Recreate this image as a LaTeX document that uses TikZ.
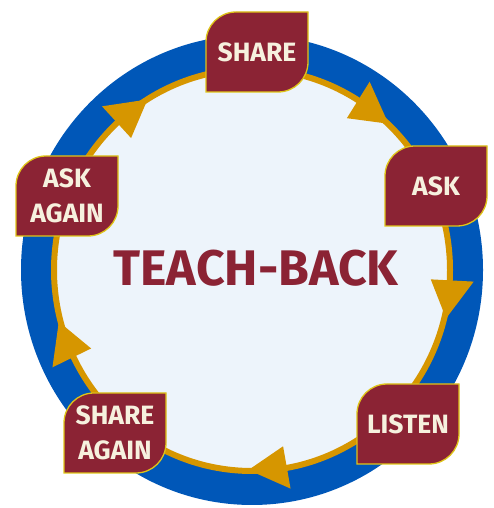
\documentclass[tikz,border=0pt]{standalone}
\usepackage{fontspec}
\setmainfont{Fira Sans}
\usetikzlibrary{calc}
\definecolor{ringblue}{RGB}{0,87,184}
\definecolor{ringgold}{RGB}{214,150,0}
\definecolor{innerfill}{RGB}{237,244,251}
\definecolor{boxred}{RGB}{139,35,52}
\definecolor{boxedge}{RGB}{222,196,24}
\definecolor{boxtext}{RGB}{246,241,222}
% leaf shaped box: round top-left and bottom-right corners
\newcommand{\leafbox}[3]{
  \draw[leaf] ($(#2)+(-51,-40)$) -- ++(0,50) arc (180:90:30pt) -- ++(72,0)
    -- ++(0,-50) arc (0:-90:30pt) -- cycle;
  \node[steptext] (#1) at (#2) {#3};
}

\begin{document}
\begin{tikzpicture}[x=1pt, y=1pt,
  leaf/.style={draw=boxedge, fill=boxred, line width=1.3pt},
  steptext/.style={text=boxtext, align=center, font=\fontsize{26.5}{35}\selectfont\bfseries},
  title/.style={text=boxred, font=\fontsize{50}{52}\selectfont\bfseries},
  arrowtip/.style={fill=ringgold}
  ]
  \useasboundingbox (0,0) rectangle (494,508);
  \coordinate (ctr) at (252,238);

  % ring
  \fill[ringblue] (ctr) ellipse [x radius=231pt, y radius=235pt];
  \draw[ringgold, line width=6pt, fill=innerfill] (ctr) ellipse [x radius=198pt, y radius=201pt];

  % arrow heads on the ring
  \foreach \a in {58,-3,-80,206,132.5}
    \fill[arrowtip] ($(ctr)+(\a:179)$) -- ($(ctr)+(\a:222)$) -- ($(ctr)+(\a-11:200)$) -- cycle;

  \node[title] (teachback) at (256,240) {TEACH-BACK};

  \leafbox{share}{257,456}{SHARE}
  \leafbox{ask}{436,322}{ASK}
  \leafbox{listen}{408,84}{LISTEN}
  \leafbox{shareagain}{115,75}{SHARE\\AGAIN}
  \leafbox{askagain}{67,312}{ASK\\AGAIN}
\end{tikzpicture}
\end{document}
